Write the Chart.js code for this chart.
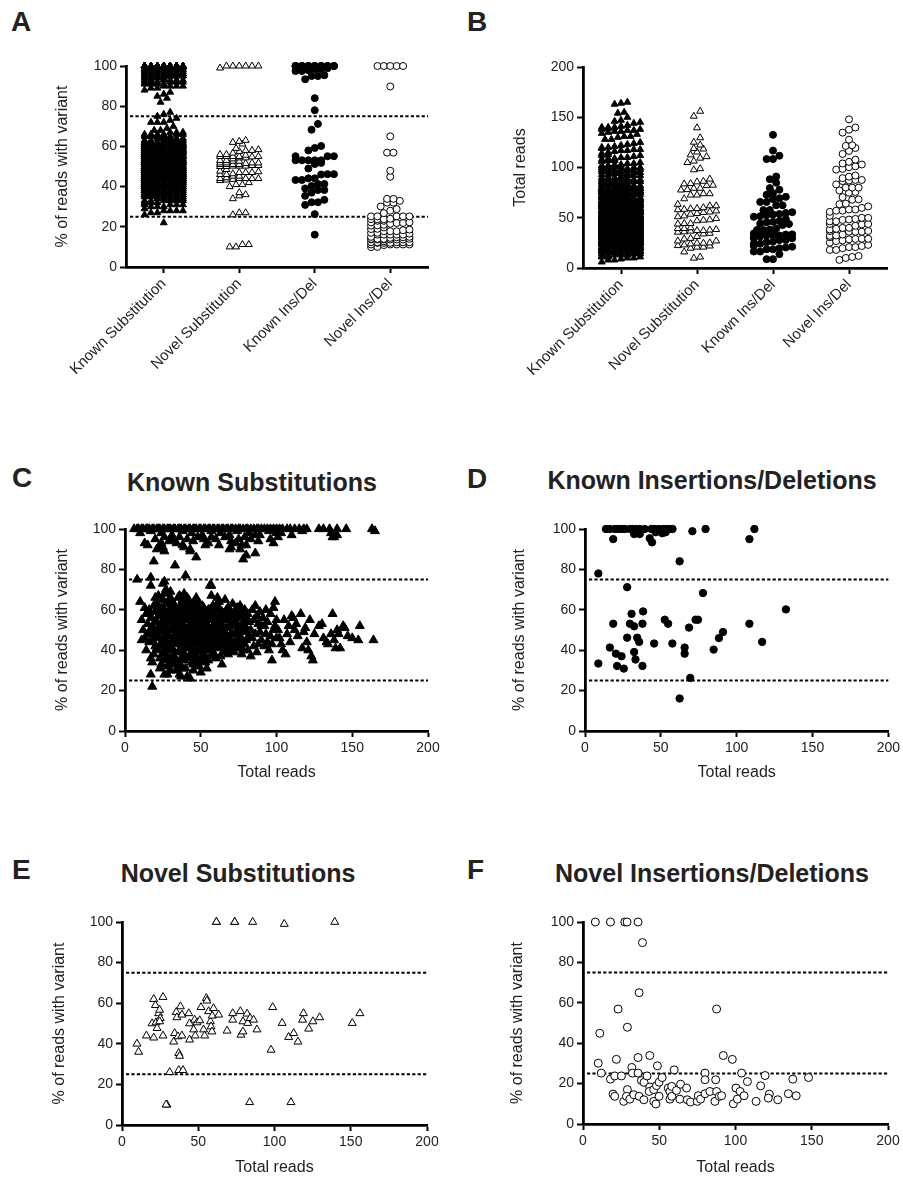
<!DOCTYPE html>
<html><head><meta charset="utf-8">
<script src="https://cdn.jsdelivr.net/npm/chart.js@4.4.1/dist/chart.umd.min.js"></script>
<style>
html,body{margin:0;padding:0;background:#fff;}
#page{position:relative;width:903px;height:1180px;overflow:hidden;font-family:"Liberation Sans",Arial,sans-serif;color:#222;}
canvas{position:absolute;left:0;top:0;}
.lbl{position:absolute;font-weight:bold;font-size:28px;line-height:1;color:#222;}
.ttl{position:absolute;font-weight:bold;font-size:25px;line-height:1;transform:translate(-50%,-50%);white-space:nowrap;color:#222;}
</style></head><body><div id="page">
<div class="lbl" style="left:11px;top:8px">A</div>
<div class="lbl" style="left:467px;top:8px">B</div>
<div class="lbl" style="left:12px;top:464px">C</div>
<div class="lbl" style="left:467px;top:465px">D</div>
<div class="lbl" style="left:12px;top:856px">E</div>
<div class="lbl" style="left:467px;top:856px">F</div>
<div class="ttl" style="left:252px;top:482px">Known Substitutions</div>
<div class="ttl" style="left:712px;top:480px">Known Insertions/Deletions</div>
<div class="ttl" style="left:238px;top:873px">Novel Substitutions</div>
<div class="ttl" style="left:712px;top:873px">Novel Insertions/Deletions</div>
<canvas id="cA" width="903" height="1180"></canvas>
<canvas id="cB" width="903" height="1180"></canvas>
<canvas id="cC" width="903" height="1180"></canvas>
<canvas id="cD" width="903" height="1180"></canvas>
<canvas id="cE" width="903" height="1180"></canvas>
<canvas id="cF" width="903" height="1180"></canvas>
</div>
<script>
// ---------------- DATA ----------------
const categories = ["Known Substitution", "Novel Substitution", "Known Ins/Del", "Novel Ins/Del"];
const thresholds = [25, 75];
const pctTicks = [0, 20, 40, 60, 80, 100];
const readsTicks = [0, 50, 100, 150, 200];

// Known substitutions: total reads of variants seen at 100% of reads
const ks100Reads = [6,8,9,11,12,14,15,16,18,19,21,22,23,25,26,28,29,30,32,33,35,36,37,39,40,42,43,45,46,47,49,50,52,53,55,56,58,59,61,62,64,65,67,68,70,71,73,75,76,78,80,81,83,85,87,88,90,92,94,96,98,100,102,104,107,109,112,115,118,120,128,131,135,140,146,163];
// Known substitutions [total reads, % reads with variant], high band (80-99%)
const ksHigh = [[10,98],[17,99],[24,98],[31,97],[38,99],[44,98],[51,97],[57,99],[63,98],[69,97],[74,99],[82,98],[89,97],[95,99],[103,98],[110,97],[117,99],[136,98],[138,96],[165,99],[100,98],
[13,93],[15,92],[20,95],[22,91],[24,93],[26,96],[29,94],[31,95],[34,93],[36,96],[38,92],[41,95],[43,90],[45,94],[48,96],[52,95],[55,93],[57,96],[60,95],[62,92],[66,96],[70,94],[73,93],[75,95],[77,92],[79,96],[83,95],[86,97],[88,94],[96,95],[98,93],[101,96],[137,96],[140,97],[21,90],[25,91],[53,92],[70,91],[76,90],[80,92],
[19,84],[33,82],[47,86],[69,90],[78,85],[80,87],[86,88],[43,89],[39,91],[26,89]];
// Known substitutions, 68-78% band
const ksMid = [[8,75],[17,76],[40,77],[25,73],[26,74],[17,72],[57,72],[27,70],[30,69]];
// Known substitutions, heterozygous cluster
const ksCluster = [
[10,64],[11,55],[12,50],[13,46],[11,45],[14,58],[15,53],[14,40],[13,61],[15,48],
[16,60],[17,56],[18,52],[16,44],[17,36],[18,34],[19,62],[20,66],[19,48],[20,42],[17,28],[18,22],[16,58],[19,38],[20,54],[18,45],[17,50],[20,59],
[21,63],[22,57],[23,52],[21,46],[22,40],[23,36],[24,61],[25,55],[24,49],[25,43],[23,31],[24,33],[21,50],[22,67],[25,65],[23,58],[24,44],[25,38],[21,54],[22,47],[23,42],[24,53],[25,60],[21,41],
[26,68],[27,63],[28,58],[29,54],[30,50],[26,46],[27,41],[28,37],[29,33],[30,30],[26,28],[28,28],[29,65],[30,61],[27,56],[28,51],[29,47],[30,43],[26,39],[27,35],[28,32],[30,66],[26,57],[27,52],[28,44],[29,40],[30,36],[26,60],[27,48],[29,58],
[31,62],[32,57],[33,53],[34,49],[35,45],[31,41],[32,37],[33,33],[34,30],[35,66],[31,64],[32,60],[33,56],[34,52],[35,48],[31,44],[32,40],[33,36],[34,35],[35,32],[31,50],[32,47],[33,43],[34,58],[35,55],[31,55],[32,52],[33,62],[34,44],[35,39],[33,59],[31,34],
[36,67],[37,63],[38,59],[39,55],[40,51],[36,47],[37,43],[38,39],[39,35],[40,31],[36,28],[37,27],[38,65],[39,61],[40,57],[36,53],[37,49],[38,45],[39,41],[40,37],[36,33],[37,57],[38,53],[39,48],[40,44],[36,40],[37,36],[38,31],[39,68],[40,63],[36,60],[38,50],[40,48],[37,53],[39,44],
[41,66],[42,62],[43,58],[44,54],[45,50],[41,46],[42,42],[43,38],[44,34],[45,30],[41,27],[43,26],[42,65],[43,61],[44,57],[45,53],[41,49],[42,45],[43,41],[44,37],[45,33],[41,55],[42,51],[43,47],[44,43],[45,39],[41,60],[42,36],[44,62],[45,58],[43,52],[45,45],
[46,64],[47,60],[48,56],[49,52],[50,48],[46,44],[47,40],[48,36],[49,32],[50,29],[46,57],[47,53],[48,49],[49,45],[50,41],[46,37],[47,34],[48,61],[49,59],[50,55],[46,51],[47,47],[48,43],[49,39],[50,35],[47,66],[49,63],[50,60],[48,53],[46,48],
[51,62],[52,58],[53,54],[54,50],[55,46],[51,42],[52,38],[53,34],[54,31],[55,60],[51,56],[52,52],[53,48],[54,44],[55,40],[51,36],[52,61],[53,57],[54,53],[55,49],[51,45],[52,41],[53,37],[54,59],[55,55],[51,50],[53,44],[55,35],[52,47],[54,40],
[56,72],[57,67],[58,62],[59,58],[60,54],[56,50],[57,46],[58,42],[59,38],[60,36],[56,60],[57,56],[58,52],[59,48],[60,44],[56,40],[57,37],[58,59],[59,55],[60,51],[56,47],[57,43],[58,39],[59,61],[60,62],[56,55],[58,46],[60,47],
[61,66],[62,61],[63,57],[64,53],[65,49],[61,45],[62,41],[63,37],[64,33],[65,58],[61,54],[62,50],[63,46],[64,42],[65,39],[61,60],[62,56],[63,52],[64,48],[65,44],[62,64],[64,59],[61,49],[63,43],
[66,65],[67,60],[68,56],[69,52],[70,48],[66,44],[67,40],[68,38],[69,57],[70,53],[66,49],[67,45],[68,42],[69,46],[70,59],[66,55],[67,51],[68,61],[70,43],[69,40],
[71,63],[72,58],[73,54],[74,50],[75,46],[71,42],[72,39],[73,60],[74,56],[75,52],[71,48],[72,44],[73,41],[74,61],[75,57],[71,53],[73,48],[75,43],
[76,62],[77,57],[78,53],[79,49],[80,45],[76,41],[77,38],[78,59],[79,55],[80,51],[76,47],[77,44],[78,40],[79,60],[80,56],[77,50],[79,43],
[81,58],[82,54],[83,50],[84,46],[85,42],[86,62],[87,57],[88,53],[89,49],[90,45],[81,40],[83,37],[84,60],[86,48],[88,43],[89,59],[90,52],[82,47],[85,55],[87,39],
[91,56],[92,52],[93,48],[94,44],[95,40],[96,58],[97,35],[98,50],[99,64],[100,46],[92,42],[94,54],[96,47],[98,61],[100,55],[93,60],[97,43],[99,52],
[101,50],[102,46],[104,40],[105,55],[106,38],[108,52],[110,57],[111,56],[103,43],[107,48],[109,44],[112,50],
[113,53],[114,47],[116,58],[117,41],[118,49],[120,44],[122,55],[123,37],[124,35],[125,48],[119,51],[121,40],
[128,52],[130,53],[131,46],[133,44],[134,43],[136,48],[137,58],[139,41],[140,50],[142,41],[144,52],[145,51],[147,47],[150,46],[154,45],[155,52],[164,45],[138,45],[141,48]];

// Novel substitutions [total reads, % reads with variant]
const novelSub = [[61.9,100],[61.9,100],[73.9,100],[73.9,100],[85.7,100],[106.4,99],[139.5,100],
[9.8,40],[10.9,36],[16,44],[20.8,62],[21.9,59],[20.8,43],[19.7,50],[22.3,50.5],[23,47.7],[24,55],[25,52.6],[24.7,51],[24.7,56.7],[26.9,63],[26.9,44],[29.5,10],[28.9,10],[31.3,26],[33.9,41],[34.5,45.2],[35.6,55.6],[36,53],[36.7,43.6],[37.2,35.4],[37.8,34],[37.2,27],[40,27],[38.3,58.4],[39.3,54.3],[39.3,44],[43.8,55],[44.3,42],[44.3,50],[47,47],[47.6,51.8],[48,44],[49.2,50.5],[51,51.5],[51.8,58],[53.5,47],[54.2,44],[55.3,62.5],[55.7,61.2],[56.8,56],[58,51],[58.4,48.5],[59,46],[59.2,53.8],[60,57.5],[63.4,54.3],[68.9,46.4],[72.6,55],[72.6,51.8],[77.6,56],[78,44.4],[79.3,51],[79.3,46],[82,54.8],[82.4,50.2],[84,52.6],[86.3,51.8],[88.5,47],[83.7,11.2],[98.8,58],[97.7,37],[105,50.2],[109.3,43.3],[112.6,45.2],[115.4,41],[119,55],[118.4,51.8],[122.4,47.4],[125.2,51],[129.6,53],[151,50.2],[156,55],[110.8,11.2]];

// Known insertions/deletions [total reads, % reads with variant]
const knownIndel = [[13.8,100],[16.4,100],[19.7,100],[21.9,100],[24.1,100],[26.3,100],[29.6,100],[31.3,100],[33.5,100],[36.1,100],[39.4,100],[43.8,100],[46,100],[48.8,100],[51.5,100],[53.7,100],[55.5,100],[57.7,100],[79.5,100],[111.7,100],
[70.8,98.9],[18.6,95],[32.4,97.5],[36.1,97.5],[42.7,95.4],[44.2,93.4],[46.7,98.4],[51,97.9],[53.2,98.4],[108.4,95],[62.4,84],[8.8,78],[27.8,71.2],[77.8,68.3],[132.5,60.2],[30.7,58],[38.3,59.2],[18.6,53.1],[29.6,53.1],[32.4,51.8],[37.9,53.1],[52.6,55.1],[54.8,53.1],[68.6,51.2],[72.9,55.1],[74.5,55.1],[108.4,53.1],[27.8,46.2],[34.4,46.2],[35.7,44.1],[45.6,43.3],[57.6,43.3],[16.4,41.3],[65.7,41.3],[65.7,38.3],[88.3,46],[91,49],[84.8,40.3],[116.8,44.1],[20.4,38.3],[24.1,37],[32.4,39.1],[33.3,35.4],[8.8,33.4],[21.2,32.2],[25.6,30.9],[37.9,32.2],[69.4,26.3],[62.4,16.1]];

// Novel insertions/deletions [total reads, % reads with variant]
const novelIndel = [[8.1,100],[18,100],[27.4,100],[28.9,100],[36.1,100],[39,89.8],[36.8,65],[23,56.9],[87.6,56.9],[11,44.9],[29.1,47.9],[10,30.1],[21.9,32],[36.1,32.9],[43.8,33.9],[92,33.9],[97.9,32],[12,25.2],[18,22.2],[20.8,23.8],[25.2,23.8],[32,28],[32.4,25.2],[36.1,25.2],[38.3,21.5],[40,20.6],[42,23.8],[43.8,18.3],[43.4,16.1],[46.4,17],[48.2,19],[48.8,28.8],[49.9,20.7],[51.9,23],[19.7,14.8],[20.8,13.7],[26.7,11.2],[29.1,17],[28.5,13.7],[30.7,12.3],[33.3,14.5],[36.8,13.7],[39.9,12],[46.4,11.2],[47.8,9.9],[49.9,13.7],[55.9,17.8],[57,16.1],[58.2,18.6],[59.8,26.8],[57,12.3],[58.2,13.7],[61.3,16.6],[63.5,12.3],[64,19.7],[67.9,17.8],[68.3,12],[70.5,10.9],[74.9,11.2],[75.6,14],[77.1,12.3],[80,25.2],[80,21.9],[80,15],[83.2,16.1],[86.5,11.2],[87,21.9],[87.6,16.1],[89.4,13.7],[90.9,14],[98.6,10],[100.3,17.8],[101.2,12.3],[103,16.1],[104,25.2],[105.6,14],[107.8,21],[113.5,11.2],[116.5,18.9],[119.4,24],[122.2,14.8],[121.5,12.8],[127.7,12],[134.7,15],[137.6,22.2],[139.8,14],[147.9,23]];

// ---------------- RENDERING ----------------
const knownSub = ks100Reads.map(r => [r, 100]).concat(ksHigh, ksMid, ksCluster);
const groups = [knownSub, novelSub, knownIndel, novelIndel];

const PW = 903, PH = 1180;
const FONT = '"Liberation Sans", Arial, Helvetica, sans-serif';
Chart.defaults.font.family = FONT;
Chart.defaults.color = '#222';

const styles = [
  {pointStyle:'triangle', backgroundColor:'#000', borderColor:'#000', borderWidth:1},
  {pointStyle:'triangle', backgroundColor:'#fff', borderColor:'#000', borderWidth:1},
  {pointStyle:'circle', backgroundColor:'#000', borderColor:'#000', borderWidth:1},
  {pointStyle:'circle', backgroundColor:'#fff', borderColor:'#000', borderWidth:1}
];

const refLines = {
  id: 'refLines',
  beforeDatasetsDraw(chart, args, opts) {
    if (!opts || !opts.values) return;
    const {ctx, chartArea: a, scales: {y}} = chart;
    ctx.save();
    ctx.setLineDash([3.2, 2.2]);
    ctx.lineWidth = 2;
    ctx.strokeStyle = '#000';
    opts.values.forEach(v => {
      const py = y.getPixelForValue(v);
      ctx.beginPath(); ctx.moveTo(a.left + 4, py); ctx.lineTo(a.right, py); ctx.stroke();
    });
    ctx.restore();
  }
};

function axis(min, max, ticksArr, title) {
  return {
    type: 'linear', min, max,
    afterBuildTicks: s => { s.ticks = ticksArr.map(v => ({value: v})); },
    ticks: {font: {size: 14}, color: '#222', padding: 3, autoSkip: false},
    grid: {display: true, drawOnChartArea: false, drawTicks: true, tickLength: 6, tickWidth: 2, tickColor: '#000'},
    border: {display: true, color: '#000', width: 2.8},
    title: title ? {display: true, text: title, font: {size: 16}, color: '#222', padding: {top: 4, bottom: 4}} : {display: false}
  };
}

function panel(id, spec) {
  const off = 16 * 1.2 / 2 + 4;
  const padL = spec.yTitleX - off;
  const xBottom = spec.xTitleY ? spec.xTitleY + off : spec.xBottom;
  const padding = {left: padL, top: spec.y0, right: PW - spec.x1, bottom: PH - xBottom};
  const xA = spec.xAxis; xA.afterFit = s => { s.height = xBottom - spec.y1; };
  const yA = spec.yAxis; yA.afterFit = s => { s.width = spec.x0 - padL; };
  spec.datasets.forEach(d => { d.clip = false; });
  new Chart(document.getElementById(id), {
    type: 'scatter',
    data: {datasets: spec.datasets},
    options: {
      responsive: false, animation: false, events: [],
      layout: {padding},
      scales: {x: xA, y: yA},
      plugins: {legend: {display: false}, tooltip: {enabled: false}, refLines: {values: spec.lines}}
    },
    plugins: [refLines]
  });
}

// beeswarm-like column scatter layout computed from values
function swarm(values, cat, pxPerX, pxPerY, rowPx, colPx, maxCols) {
  const sorted = values.slice().sort((a, b) => a - b);
  const out = [];
  let i = 0;
  while (i < sorted.length) {
    const start = sorted[i];
    let j = i;
    while (j < sorted.length && (sorted[j] - start) * pxPerY < rowPx) j++;
    const n = j - i, m = Math.min(n, maxCols);
    for (let k = 0; k < n; k++) {
      const slot = k % maxCols;
      const off = (slot - (m - 1) / 2) * colPx;
      out.push({x: cat + off / pxPerX, y: sorted[i + k]});
    }
    i = j;
  }
  return out;
}

function catAxis() {
  const a = axis(-0.5, 3.5, [0, 1, 2, 3], null);
  a.ticks = {font: {size: 15}, color: '#222', padding: 2, autoSkip: false, minRotation: 45, maxRotation: 45,
    callback: (v, i) => categories[i]};
  return a;
}

// Panel A
const aSpec = {x0: 126, x1: 428, y0: 66, y1: 267, yTitleX: 63, xBottom: 430};
aSpec.datasets = groups.map((g, c) => Object.assign({
  data: swarm(g.map(p => p[1]), c, (aSpec.x1 - aSpec.x0) / 4, (aSpec.y1 - aSpec.y0) / 100, 6, 6.4, 7),
  pointRadius: c < 2 ? 4 : 3.5
}, styles[c]));
aSpec.xAxis = catAxis();
aSpec.yAxis = axis(0, 100, pctTicks, '% of reads with variant');
aSpec.lines = thresholds;
panel('cA', aSpec);

// Panel B
const bSpec = {x0: 583, x1: 887, y0: 67, y1: 268, yTitleX: 521, xBottom: 430};
bSpec.datasets = groups.map((g, c) => Object.assign({
  data: swarm(g.map(p => p[0]), c, (bSpec.x1 - bSpec.x0) / 4, (bSpec.y1 - bSpec.y0) / 200, 6, 6.4, 7),
  pointRadius: c < 2 ? 4 : 3.5
}, styles[c]));
bSpec.xAxis = catAxis();
bSpec.yAxis = axis(0, 200, readsTicks, 'Total reads');
bSpec.lines = null;
panel('cB', bSpec);

function scatterSpec(g, c, box, r) {
  box.datasets = [Object.assign({data: g.map(p => ({x: p[0], y: p[1]})), pointRadius: r}, styles[c])];
  box.xAxis = axis(0, 200, readsTicks, 'Total reads');
  box.yAxis = axis(0, 100, pctTicks, '% of reads with variant');
  box.lines = thresholds;
  return box;
}
panel('cC', scatterSpec(knownSub, 0, {x0: 125, x1: 428, y0: 529, y1: 731, yTitleX: 63, xTitleY: 773}, 5.2));
panel('cD', scatterSpec(knownIndel, 2, {x0: 585, x1: 889, y0: 529, y1: 731, yTitleX: 520, xTitleY: 773}, 3.7));
panel('cE', scatterSpec(novelSub, 1, {x0: 122, x1: 427, y0: 922, y1: 1125, yTitleX: 60, xTitleY: 1168}, 4.6));
panel('cF', scatterSpec(novelIndel, 3, {x0: 583, x1: 888, y0: 922, y1: 1124, yTitleX: 518, xTitleY: 1168}, 4));
</script>
</body></html>
